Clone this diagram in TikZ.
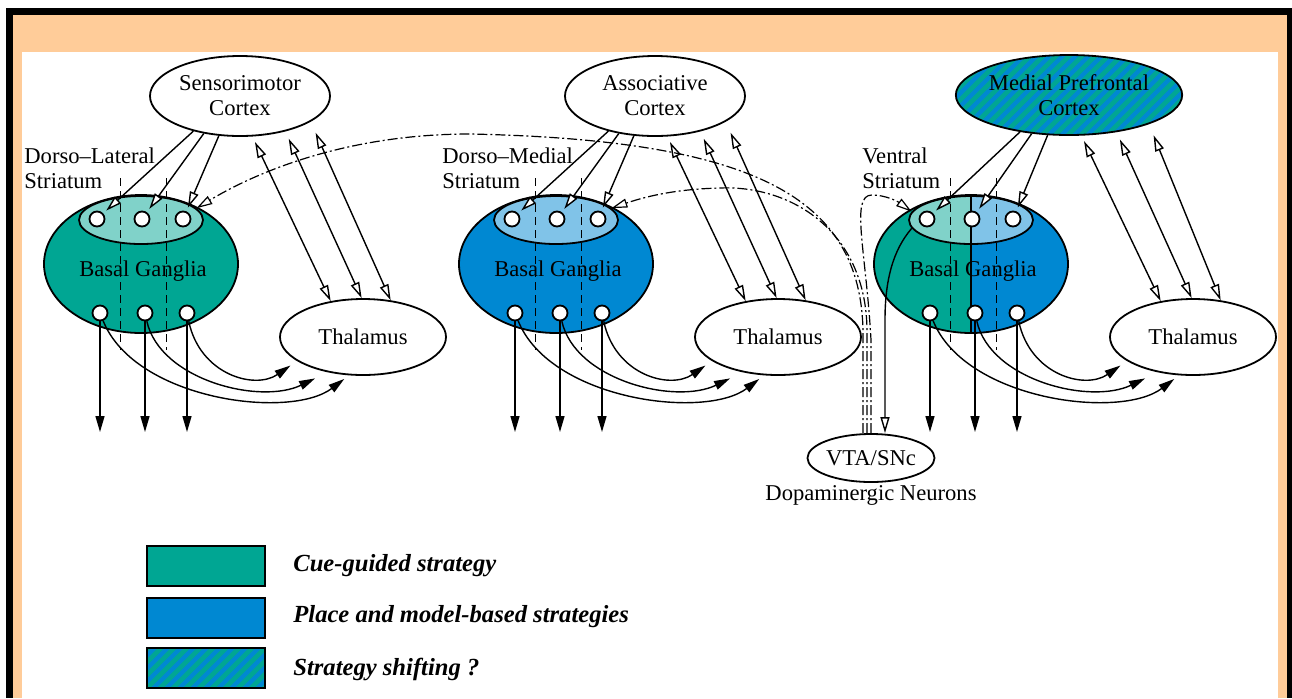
\documentclass[tikz,border=0pt]{standalone}
\usepackage{fontspec}
\setmainfont{Liberation Serif}
\usetikzlibrary{arrows.meta,positioning,shapes.geometric}
\definecolor{cuegreen}{RGB}{0,166,147}
\definecolor{placeblue}{RGB}{0,136,210}
\definecolor{framepeach}{RGB}{255,204,153}
\tikzset{
  opentip/.tip={Triangle[open,fill=white,length=8pt,width=4.5pt]},
  filltip/.tip={Triangle[length=8pt,width=4.5pt]},
  area/.style={ellipse,draw,line width=0.9pt,inner sep=0pt},
  cortex/.style={area,fill=white,minimum width=90pt,minimum height=40pt,align=center},
  ganglia/.style={area,minimum width=97pt,minimum height=69pt},
  striatum/.style={area,minimum width=62pt,minimum height=24pt},
  thalamus/.style={area,fill=white,minimum width=83pt,minimum height=38pt},
  neuron/.style={circle,draw,line width=0.9pt,fill=white,minimum size=7.5pt,inner sep=0pt},
  split/.style 2 args={path picture={
    \fill[fill=#1] (path picture bounding box.south west) rectangle (path picture bounding box.north);
    \fill[fill=#2] (path picture bounding box.south) rectangle (path picture bounding box.north east);}},
  shifting/.style={fill=placeblue,path picture={
    \foreach \k in {-22,...,22}
      \draw[cuegreen,line width=2.3pt] ([xshift=\k*6.5pt]path picture bounding box.center) ++(-60pt,-60pt) -- ++(120pt,120pt);}},
  legendbox/.style={rectangle,draw,line width=1pt,minimum width=59pt,minimum height=20pt,inner sep=0pt},
  legendtext/.style={anchor=west,inner sep=0pt,font=\fontsize{12.3pt}{14pt}\selectfont\bfseries\itshape},
  grouplabel/.style={anchor=north west,inner sep=0pt,align=left},
  wire/.style={line width=0.7pt},
  border/.style={dash pattern=on 4pt off 2.5pt,line width=0.5pt},
  dopa/.style={line width=0.6pt,dash pattern=on 5pt off 1.5pt on 1pt off 1.5pt},
}
\begin{document}
\begin{tikzpicture}[x=0.5pt,y=-0.5pt,font=\fontsize{11.3pt}{12.5pt}\selectfont]
\useasboundingbox (0,0) rectangle (1292,698);
\fill[black] (6,8) rectangle (1292,698);
\fill[framepeach] (13,15) rectangle (1287,698);
\fill[white] (22,52) rectangle (1278,698);

\foreach \g/\dx/\lc/\rc in {a/0/cuegreen/cuegreen,b/415/placeblue/placeblue,c/830/cuegreen/placeblue}{
  \begin{scope}[shift={(\dx,0)}]
    \node[ganglia,fill=\lc,split={\lc}{\rc}] (bg\g) at (141,264) {};
    \node[striatum,fill=\lc!50,split={\lc!50}{\rc!50}] (st\g) at (141,220) {};
    \draw[border] (120,178) -- (120,350) (166,178) -- (166,350);
    \node (lab\g) at (143,271) {Basal Ganglia};
    \node[thalamus] (th\g) at (363,337) {Thalamus};
  \end{scope}}

\node[cortex] (cxa) at (240,96) {Sensorimotor\\Cortex};
\node[cortex] (cxb) at (655,96) {Associative\\Cortex};
\node[cortex,shifting] (cxc) at (1069,95) {Medial Prefrontal\\Cortex};

\node[grouplabel] (dls) at (24,147) {Dorso--Lateral\\Striatum};
\node[grouplabel] (dms) at (442,147) {Dorso--Medial\\Striatum};
\node[grouplabel] (vs) at (862,147) {Ventral\\Striatum};

\draw[line width=0.9pt] (stc.north) -- (bgc.south);

\node[area,fill=white,minimum width=62pt,minimum height=24pt] (vta) at (871,458) {VTA/SNc};
\node[below=1pt of vta,inner sep=0pt] (dopalab) {Dopaminergic Neurons};

\draw[wire,-opentip] (stc.188) .. controls (893,250) and (885,280) .. (885,320) -- ([xshift=7pt]vta.north);

\foreach \g/\dx in {a/0,b/415,c/830}{
  \begin{scope}[shift={(\dx,0)}]
    \foreach \i/\nx in {1/97,2/142,3/183}
      \node[neuron] (in\g\i) at (\nx,219) {};
    \foreach \i/\nx in {1/100,2/145,3/187}{
      \node[neuron] (out\g\i) at (\nx,313) {};
      \coordinate (end\g\i) at (\nx,432);
      \draw[wire,-filltip] (out\g\i) -- (end\g\i);}
    \draw[wire,-filltip,shorten >=4pt] (out\g3) .. controls (200,375) and (255,390) .. (th\g.200);
    \draw[wire,-filltip,shorten >=7pt] (out\g2) .. controls (160,380) and (260,405) .. (th\g.225);
    \draw[wire,-filltip,shorten >=3pt] (out\g1) .. controls (135,400) and (290,420) .. (th\g.250);
    \draw[wire,-opentip,shorten >=2pt] (cx\g.217) -- (in\g1);
    \draw[wire,-opentip,shorten >=2pt] (cx\g.226) -- (in\g2);
    \draw[wire,-opentip,shorten >=2pt] (cx\g.242) -- (in\g3);
    \draw[wire,opentip-opentip,shorten <=3pt] (cx\g.287) -- (th\g.132);
    \draw[wire,opentip-opentip,shorten <=4pt] (cx\g.322) -- (th\g.92);
    \draw[wire,opentip-opentip,shorten <=6pt] (cx\g.340) -- (th\g.53);
  \end{scope}}

\draw[dopa,-opentip] ([xshift=-4pt]vta.north) -- (863,330) .. controls (860,200) and (760,140) .. (470,134)
  .. controls (350,134) and (260,170) .. (sta.12);
\draw[dopa,-opentip] ([xshift=-2pt]vta.north) -- (867,330) .. controls (866,230) and (790,185) .. (720,188)
  .. controls (680,189) and (650,195) .. (stb.12);
\draw[dopa,-opentip] (vta.north) -- (871,340) .. controls (866,250) and (850,195) .. (872,195)
  .. controls (885,195) and (897,201) .. (stc.172);

\node[legendbox,fill=cuegreen] (lga) at (206,566) {};
\node[legendbox,fill=placeblue] (lgb) at (206,618) {};
\node[legendbox,shifting] (lgc) at (206,668) {};
\node[legendtext] (txa) at (293,566) {Cue-guided strategy};
\node[legendtext] (txb) at (293,617) {Place and model-based strategies};
\node[legendtext] (txc) at (293,669) {Strategy shifting ?};
\end{tikzpicture}
\end{document}
